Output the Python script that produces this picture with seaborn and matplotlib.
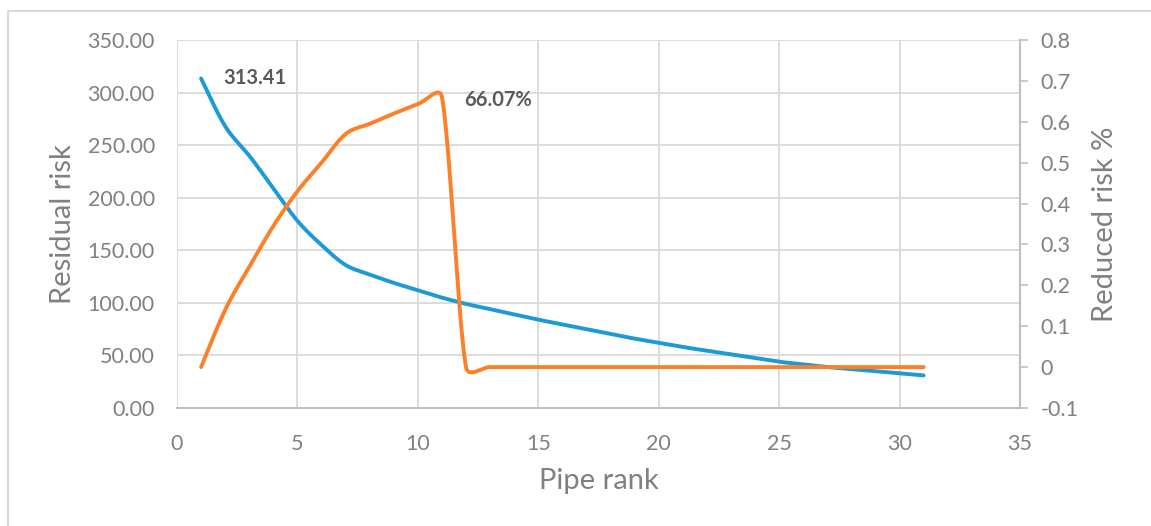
import matplotlib
matplotlib.use("Agg")
import matplotlib.pyplot as plt
import matplotlib.ticker as mticker
from matplotlib.lines import Line2D
import numpy as np
import seaborn as sns

# ---- data ----
pipe_rank = list(range(1, 32))
residual_risk = [313.41, 268, 240, 209, 178, 155, 136, 127, 119, 112,
                 105, 99, 94, 89, 84, 79.5, 75, 70.5, 66, 62,
                 58, 54.5, 51, 47.5, 44, 41.5, 39, 37, 35, 33, 31]
reduced_risk = [0.0, 0.14, 0.245, 0.345, 0.43, 0.50, 0.57, 0.595, 0.62, 0.643,
                0.6607, 0.0, 0.0, 0.0, 0.0, 0.0, 0.0, 0.0, 0.0, 0.0,
                0.0, 0.0, 0.0, 0.0, 0.0, 0.0, 0.0, 0.0, 0.0, 0.0, 0.0]
left_ticks = [0, 50, 100, 150, 200, 250, 300, 350]
right_ticks = [-0.1, 0, 0.1, 0.2, 0.3, 0.4, 0.5, 0.6, 0.7, 0.8]
x_ticks = [0, 5, 10, 15, 20, 25, 30, 35]

BLUE = "#1b9ad6"
ORANGE = "#fd7f28"
GRID = "#d9d9d9"
SPINE = "#bfbfbf"
TEXT = "#808080"
LABEL_DARK = "#595959"

AX_W, AX_H = 843, 368  # plot area in pixels


def smooth_path(xs, ys, sx, sy, n=40):
    """Excel-like smoothed line: Bezier segments whose handles follow the
    neighbour chord (1/6) but never exceed half the segment length, measured
    in screen pixels (sx, sy = pixels per data unit). Drawing only."""
    P = np.column_stack([np.asarray(xs, float) * sx, np.asarray(ys, float) * sy])
    m = len(P)
    t = np.linspace(0, 1, n, endpoint=False)[:, None]
    pts = []
    for i in range(m - 1):
        p1, p2 = P[i], P[i + 1]
        p0 = P[i - 1] if i > 0 else p1
        p3 = P[i + 2] if i + 2 < m else p2
        seg = np.linalg.norm(p2 - p1)
        d1 = (p2 - p0) / 6
        d2 = (p3 - p1) / 6
        n1, n2 = np.linalg.norm(d1), np.linalg.norm(d2)
        if n1 > seg / 2:
            d1 = d1 * (seg / 2) / n1
        if n2 > seg / 2:
            d2 = d2 * (seg / 2) / n2
        c1, c2 = p1 + d1, p2 - d2
        b = (1 - t) ** 3 * p1 + 3 * (1 - t) ** 2 * t * c1 + 3 * (1 - t) * t ** 2 * c2 + t ** 3 * p2
        pts.append(b)
    pts.append(P[-1:])
    pts = np.vstack(pts)
    return pts[:, 0] / sx, pts[:, 1] / sy


sns.set_theme(style="white")
plt.rcParams["font.family"] = ["Lato", "DejaVu Sans"]

fig = plt.figure(figsize=(11.51, 5.26), dpi=100)
ax = fig.add_axes([177 / 1151, 118 / 526, AX_W / 1151, AX_H / 526])

# outer chart border (top and left visible)
fig.add_artist(Line2D([8 / 1151, 1.0], [1 - 11 / 526, 1 - 11 / 526], color=GRID, lw=1.5))
fig.add_artist(Line2D([8 / 1151, 8 / 1151], [0, 1 - 11 / 526], color=GRID, lw=1.5))

x_lim = (0, 35)
y_lim = (0, 350)
y2_lim = (-0.1, 0.8)
sx = AX_W / (x_lim[1] - x_lim[0])

bx, by = smooth_path(pipe_rank, residual_risk, sx, AX_H / (y_lim[1] - y_lim[0]))
sns.lineplot(x=bx, y=by, ax=ax, color=BLUE, lw=2.8, sort=False, estimator=None,
             solid_capstyle="round")

ax.set_xlim(*x_lim)
ax.set_ylim(*y_lim)
ax.set_xticks(x_ticks)
ax.set_yticks(left_ticks)
ax.yaxis.set_major_formatter(mticker.FormatStrFormatter("%.2f"))
ax.grid(True, color=GRID, lw=1.3)
ax.set_axisbelow(True)
for side in ["top", "left", "right"]:
    ax.spines[side].set_visible(False)
ax.spines["bottom"].set_color(SPINE)
ax.spines["bottom"].set_linewidth(1.5)
ax.tick_params(axis="both", length=0, labelsize=15.5, colors=TEXT)
ax.tick_params(axis="x", pad=19)
ax.tick_params(axis="y", pad=16)
ax.set_xlabel("Pipe rank", fontsize=21, color=TEXT, labelpad=10)
ax.set_ylabel("Residual risk", fontsize=21, color=TEXT, labelpad=8)

ax.annotate("313.41", xy=(pipe_rank[0], residual_risk[0]), xytext=(16, 0),
            textcoords="offset points", ha="left", va="center",
            fontsize=14.5, fontweight="bold", color=LABEL_DARK)

ax2 = ax.twinx()
ox, oy = smooth_path(pipe_rank, reduced_risk, sx, AX_H / (y2_lim[1] - y2_lim[0]))
sns.lineplot(x=ox, y=oy, ax=ax2, color=ORANGE, lw=2.8, sort=False, estimator=None,
             solid_capstyle="round")
ax2.set_ylim(*y2_lim)
ax2.set_yticks(right_ticks)
ax2.yaxis.set_major_formatter(mticker.FuncFormatter(lambda v, p: f"{round(v, 1):g}"))
for side in ["top", "left", "bottom"]:
    ax2.spines[side].set_visible(False)
ax2.spines["right"].set_color(SPINE)
ax2.spines["right"].set_linewidth(1.5)
ax2.tick_params(axis="y", length=5.5, width=1.2, color=SPINE, direction="out",
                labelsize=15.5, labelcolor=TEXT, pad=9, right=True)
ax2.set_ylabel("Reduced risk %", fontsize=21, color=TEXT, labelpad=10)
ax2.grid(False)

i_peak = int(np.argmax(reduced_risk))
ax2.annotate(f"{reduced_risk[i_peak] * 100:.2f}%", xy=(pipe_rank[i_peak], reduced_risk[i_peak]),
             xytext=(16, -2), textcoords="offset points", ha="left", va="center",
             fontsize=14.5, fontweight="bold", color=LABEL_DARK)

fig.savefig("out.png", dpi=100)
plt.close(fig)
